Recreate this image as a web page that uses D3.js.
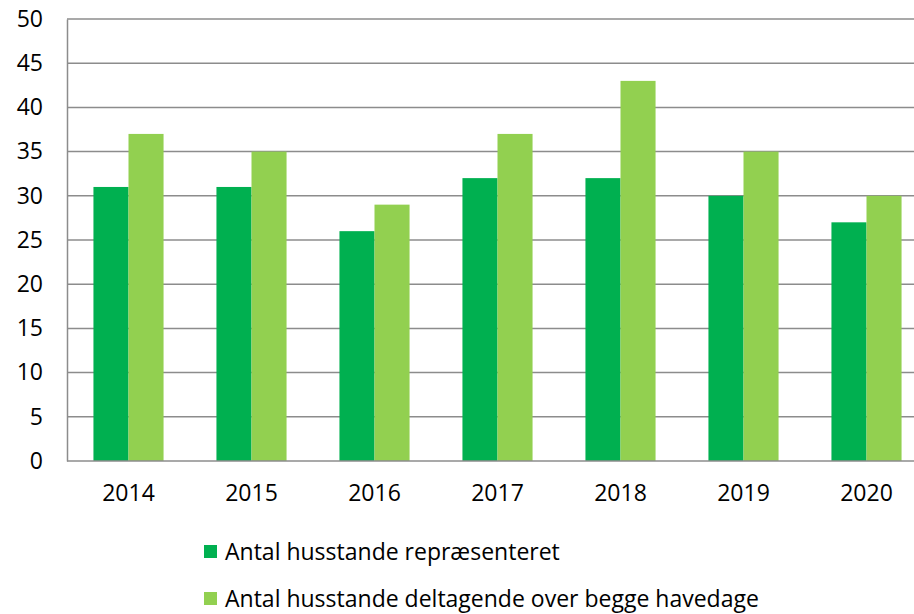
<!DOCTYPE html>
<html>
<head>
<meta charset="utf-8">
<script src="https://cdn.jsdelivr.net/npm/d3@7"></script>
<style>
  body { margin: 0; background: #fff; }
  text { font-family: 'Open Sans', Lato, sans-serif; fill: #000; }
</style>
</head>
<body>
<div id="chart"></div>
<script>
const years = ['2014', '2015', '2016', '2017', '2018', '2019', '2020']
const represented = [31, 31, 26, 32, 32, 30, 27]
const participating = [37, 35, 29, 37, 43, 35, 30]
const seriesNames = ['Antal husstande repræsenteret', 'Antal husstande deltagende over begge havedage']
const seriesColors = ['#00b050', '#92d050']
const yTicks = [0, 5, 10, 15, 20, 25, 30, 35, 40, 45, 50]

const width = 914
const height = 614
const plot = { left: 67, right: 928, top: 19, bottom: 461 }

const svg = d3.select('#chart').append('svg')
  .attr('width', width)
  .attr('height', height)

const x = d3.scaleBand()
  .domain(years)
  .range([plot.left, plot.right])
  .paddingInner(0.43)
  .paddingOuter(0.215)

const xSub = d3.scaleBand()
  .domain([0, 1])
  .range([0, x.bandwidth()])

const y = d3.scaleLinear().domain([0, 50]).range([plot.bottom, plot.top])

// gridlines
svg.append('g')
  .selectAll('line')
  .data(yTicks.filter(d => d > 0))
  .join('line')
  .attr('x1', plot.left)
  .attr('x2', width)
  .attr('y1', d => y(d))
  .attr('y2', d => y(d))
  .attr('stroke', '#8c8c8c')
  .attr('stroke-width', 1.5)

// bars
const rows = years.map((yr, i) => ({ yr, vals: [represented[i], participating[i]] }))
svg.append('g')
  .selectAll('g')
  .data(rows)
  .join('g')
  .attr('transform', d => `translate(${x(d.yr)},0)`)
  .selectAll('rect')
  .data(d => d.vals)
  .join('rect')
  .attr('x', (d, i) => xSub(i))
  .attr('y', d => y(d))
  .attr('width', xSub.bandwidth())
  .attr('height', d => y(0) - y(d))
  .attr('fill', (d, i) => seriesColors[i])

// axes
const yAxis = svg.append('g')
  .attr('transform', `translate(${plot.left},0)`)
  .call(d3.axisLeft(y).tickValues(yTicks).tickSize(0).tickPadding(24))
yAxis.select('.domain').attr('stroke', '#8c8c8c').attr('stroke-width', 1.5)
yAxis.selectAll('text').style('font-size', '23px')

const xAxis = svg.append('g')
  .attr('transform', `translate(0,${plot.bottom})`)
  .call(d3.axisBottom(x).tickSize(0).tickPadding(24))
xAxis.select('.domain').remove()
xAxis.selectAll('text').style('font-size', '23px')
svg.append('line')
  .attr('x1', plot.left).attr('x2', width)
  .attr('y1', plot.bottom).attr('y2', plot.bottom)
  .attr('stroke', '#8c8c8c').attr('stroke-width', 1.5)

// legend
const legend = svg.append('g')
  .selectAll('g')
  .data(seriesNames)
  .join('g')
  .attr('transform', (d, i) => `translate(204,${545 + i * 47})`)
legend.append('rect')
  .attr('width', 13).attr('height', 13)
  .attr('fill', (d, i) => seriesColors[i])
legend.append('text')
  .attr('x', 21).attr('y', 15)
  .style('font-size', '23px')
  .text(d => d)
</script>
</body>
</html>
